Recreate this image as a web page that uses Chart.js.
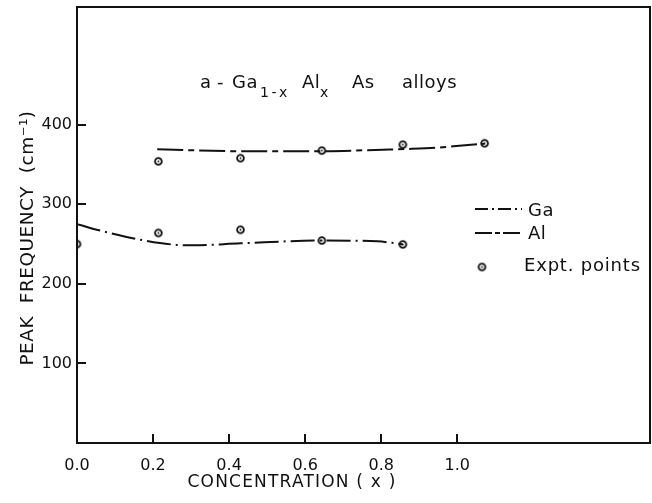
<!DOCTYPE html>
<html><head><meta charset="utf-8">
<script src="https://cdn.jsdelivr.net/npm/chart.js@4/dist/chart.umd.min.js"></script>
<style>html,body{margin:0;padding:0;background:#fff}#wrap{width:652px;height:503px;position:relative}</style>
</head><body><div id="wrap"><canvas id="c" width="652" height="503"></canvas></div>
<script>
// ---- data ----
const concentrationTicks = [0, 0.2, 0.4, 0.6, 0.8, 1.0];
const frequencyTicks = [100, 200, 300, 400];
// experimental points (x positions as drawn in the figure)
const exptGaX = [0, 0.214, 0.43, 0.644, 0.857];
const exptGaY = [250, 264, 268, 254.5, 249.6];
const exptAlX = [0.214, 0.43, 0.644, 0.857, 1.072];
const exptAlY = [354, 358, 367.5, 375, 376.7];
// fitted curves
const gaCurveX = [0, 0.078, 0.184, 0.262, 0.305, 0.43, 0.644, 0.79, 0.857];
const gaCurveY = [275, 265, 254, 249, 248.5, 251, 254.5, 253.5, 249.6];
const alCurveX = [0.211, 0.43, 0.64, 0.805, 0.87, 0.946, 0.99, 1.072];
const alCurveY = [369.3, 366.7, 366.7, 368.7, 369.6, 371.2, 373, 376.2];

const INK = '#111';
const FONT = '"DejaVu Sans", sans-serif';
const zip = (xs, ys) => xs.map((x, i) => ({x, y: ys[i]}));

// marker: ring with a centre dot
const marker = document.createElement('canvas');
marker.width = 11; marker.height = 11;
(function(){
  const m = marker.getContext('2d');
  m.strokeStyle = INK; m.fillStyle = INK; m.lineWidth = 1.8;
  m.beginPath(); m.arc(5.5, 5.5, 3.4, 0, Math.PI*2); m.stroke();
  m.beginPath(); m.arc(5.5, 5.5, 0.9, 0, Math.PI*2); m.fill();
})();

const decor = {
  id: 'decor',
  afterDraw(chart) {
    const ctx = chart.ctx, a = chart.chartArea;
    ctx.save();
    ctx.setLineDash([]);
    ctx.strokeStyle = INK; ctx.fillStyle = INK;
    // frame (top and right sides)
    ctx.lineWidth = 2;
    ctx.strokeRect(a.left, a.top, a.right - a.left, a.bottom - a.top);

    // axis titles
    ctx.textBaseline = 'middle';
    ctx.textAlign = 'center';
    ctx.font = '17px ' + FONT;
    ctx.letterSpacing = '1.2px';
    ctx.fillText('CONCENTRATION ( x )', 292, 483);
    ctx.save();
    ctx.translate(28, 238); ctx.rotate(-Math.PI/2);
    ctx.font = '18.5px ' + FONT;
    ctx.letterSpacing = '0.5px';
    ctx.fillText('PEAK  FREQUENCY  (cm\u207B\u00B9)', 0, 0);
    ctx.restore();

    // annotation: a - Ga1-x Alx As alloys
    ctx.textAlign = 'left';
    ctx.textBaseline = 'alphabetic';
    const main = '18px ' + FONT, sub = '14px ' + FONT;
    const pieces = [['a', 200, main, 88, 0], ['-', 217, main, 88, 0], ['Ga', 232, main, 88, 0.5], ['1-x', 260, sub, 97, 2.5],
                    ['Al', 302, main, 88, 0.5], ['x', 320, sub, 97, 0], ['As', 352, main, 88, 0.5], ['alloys', 402, main, 88, 0.5]];
    pieces.forEach(([t, x, f, y, ls]) => { ctx.font = f; ctx.letterSpacing = ls + 'px'; ctx.fillText(t, x, y); });

    // legend
    const ds = chart.data.datasets;
    ctx.lineWidth = 2;
    ctx.setLineDash([13, 4, 2, 4]);
    ctx.beginPath(); ctx.moveTo(475, 209); ctx.lineTo(522, 209); ctx.stroke();
    ctx.setLineDash([17, 3, 5, 3]);
    ctx.beginPath(); ctx.moveTo(475, 233); ctx.lineTo(522, 233); ctx.stroke();
    ctx.setLineDash([]);
    ctx.drawImage(marker, 482 - 5.5, 267 - 5.5);
    ctx.font = '18px ' + FONT;
    ctx.textBaseline = 'middle';
    ctx.letterSpacing = '0.5px';
    ctx.fillText(ds[0].label, 528, 211);
    ctx.fillText(ds[1].label, 528, 234);
    ctx.letterSpacing = '0.8px';
    ctx.fillText('Expt. points', 524, 266);
    ctx.restore();
  }
};

const inwardGrid = { display: true, drawOnChartArea: false, drawTicks: true, tickLength: -9,
                     tickWidth: 2, tickColor: INK, color: INK, lineWidth: 2 };

new Chart(document.getElementById('c'), {
  type: 'line',
  data: {
    datasets: [
      { label: 'Ga', data: zip(gaCurveX, gaCurveY), borderColor: INK, borderWidth: 2,
        borderDash: [24, 5, 2, 5], pointRadius: 0, cubicInterpolationMode: 'monotone', fill: false },
      { label: 'Al', data: zip(alCurveX, alCurveY), borderColor: INK, borderWidth: 2,
        borderDash: [26, 5, 6, 5], pointRadius: 0, cubicInterpolationMode: 'monotone', fill: false },
      { label: 'Expt. points (Ga)', data: zip(exptGaX, exptGaY), showLine: false,
        pointStyle: marker, pointRadius: 5, borderColor: INK, backgroundColor: INK },
      { label: 'Expt. points (Al)', data: zip(exptAlX, exptAlY), showLine: false,
        pointStyle: marker, pointRadius: 5, borderColor: INK, backgroundColor: INK }
    ]
  },
  options: {
    responsive: false, animation: false, devicePixelRatio: 1,
    layout: { autoPadding: false, padding: { top: 7, right: 2, left: 0, bottom: 0 } },
    plugins: { legend: { display: false }, tooltip: { enabled: false } },
    scales: {
      x: {
        type: 'linear', min: 0, max: 1.507,
        afterBuildTicks: s => { s.ticks = concentrationTicks.map(v => ({value: v})); },
        afterFit: s => { s.height = 60; s.paddingLeft = 0; s.paddingRight = 0; },
        grid: inwardGrid,
        border: { display: true, color: INK, width: 2 },
        ticks: { color: INK, padding: 22, font: { family: FONT, size: 16 },
                 callback: v => Number(v).toFixed(1) }
      },
      y: {
        type: 'linear', min: 0, max: 548,
        afterBuildTicks: s => { s.ticks = frequencyTicks.map(v => ({value: v})); },
        afterFit: s => { s.width = 77; s.paddingTop = 0; s.paddingBottom = 0; },
        grid: inwardGrid,
        border: { display: true, color: INK, width: 2 },
        ticks: { color: INK, padding: 14, font: { family: FONT, size: 16 },
                 callback: v => String(v) }
      }
    }
  },
  plugins: [decor]
});
</script></body></html>
